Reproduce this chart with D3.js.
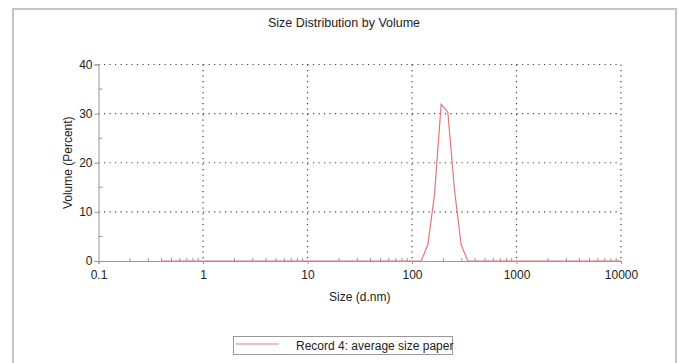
<!DOCTYPE html>
<html>
<head>
<meta charset="utf-8">
<script src="https://cdn.jsdelivr.net/npm/d3@7"></script>
<style>
  body { margin: 0; background: #fff; }
  text { font-family: "Liberation Sans", Arial, sans-serif; fill: #222; }
</style>
</head>
<body>
<div id="chart"></div>
<script>
// Size classes (d.nm) and volume percent for record 4
const sizes = [0.4, 0.4632, 0.5365, 0.6213, 0.7195, 0.8332, 0.9649, 1.117, 1.294, 1.499,
  1.736, 2.01, 2.328, 2.696, 3.122, 3.615, 4.187, 4.849, 5.615, 6.503,
  7.531, 8.721, 10.1, 11.7, 13.54, 15.69, 18.17, 21.04, 24.36, 28.21,
  32.67, 37.84, 43.82, 50.75, 58.77, 68.06, 78.82, 91.28, 105.7, 122.4,
  141.8, 164.2, 190.1, 220.2, 255.0, 295.3, 342.0, 396.1, 458.7, 531.2,
  615.1, 712.4, 825.0, 955.4, 1106, 1281, 1484, 1718, 1990, 2305,
  2669, 3091, 3580, 4145, 4801, 5560, 6439, 7456, 8635, 10000];
const volumes = [0, 0, 0, 0, 0, 0, 0, 0, 0, 0,
  0, 0, 0, 0, 0, 0, 0, 0, 0, 0,
  0, 0, 0, 0, 0, 0, 0, 0, 0, 0,
  0, 0, 0, 0, 0, 0, 0, 0, 0, 0,
  3.3, 13.5, 31.9, 30.3, 14.5, 3.3, 0, 0, 0, 0,
  0, 0, 0, 0, 0, 0, 0, 0, 0, 0,
  0, 0, 0, 0, 0, 0, 0, 0, 0, 0];
const xTicks = [0.1, 1, 10, 100, 1000, 10000];
const yTicks = [0, 10, 20, 30, 40];
const yMinor = [5, 15, 25, 35];
const title = "Size Distribution by Volume";
const seriesName = "Record 4: average size paper";

const width = 681, height = 363;
const margin = { top: 64.5, right: 60, bottom: 102, left: 98.5 };
const lineColor = "#e2787a";

const svg = d3.select("#chart").append("svg")
    .attr("width", width)
    .attr("height", height);

// outer frame
svg.append("rect")
    .attr("x", 13).attr("y", 9)
    .attr("width", 663).attr("height", 370)
    .attr("fill", "none")
    .attr("stroke", "#c4c4c4")
    .attr("stroke-width", 2);

const x = d3.scaleLog()
    .domain([0.1, 10000])
    .range([margin.left, width - margin.right]);
const y = d3.scaleLinear()
    .domain([0, 40])
    .range([height - margin.bottom, margin.top]);

// title
svg.append("text")
    .attr("x", 344).attr("y", 27)
    .attr("text-anchor", "middle")
    .style("font-size", "12.5px")
    .text(title);

// dotted grid
const grid = svg.append("g")
    .attr("stroke", "#444")
    .attr("stroke-width", 1.2)
    .attr("stroke-dasharray", "1.2,4.3");
grid.selectAll("line.h")
    .data(yTicks.filter(d => d > 0))
    .join("line")
    .attr("x1", x(0.1)).attr("x2", x(10000))
    .attr("y1", d => y(d)).attr("y2", d => y(d));
grid.selectAll("line.v")
    .data(xTicks.filter(d => d > 0.1))
    .join("line")
    .attr("x1", d => x(d)).attr("x2", d => x(d))
    .attr("y1", y(40)).attr("y2", y(0));

// axes
const xMinor = [];
for (let e = -1; e < 4; e++) {
    for (let k = 2; k <= 9; k++) xMinor.push(k * Math.pow(10, e));
}

const xAxis = svg.append("g")
    .attr("transform", `translate(0,${y(0)})`)
    .call(d3.axisBottom(x).tickValues(xTicks).tickFormat(d3.format("~g")).tickSize(3).tickPadding(6));
xAxis.selectAll(".tick text").style("font-size", "12px");
xAxis.append("g").selectAll("line")
    .data(xMinor)
    .join("line")
    .attr("x1", d => x(d)).attr("x2", d => x(d))
    .attr("y1", -3).attr("y2", 1)
    .attr("stroke", "#999");

const yAxis = svg.append("g")
    .attr("transform", `translate(${x(0.1)},0)`)
    .call(d3.axisLeft(y).tickValues(yTicks).tickSize(4).tickPadding(2));
yAxis.selectAll(".tick text").style("font-size", "12px");
yAxis.append("g").selectAll("line")
    .data(yMinor)
    .join("line")
    .attr("x1", 0).attr("x2", 4)
    .attr("y1", d => y(d)).attr("y2", d => y(d))
    .attr("stroke", "#999");

svg.selectAll(".domain, .tick line").attr("stroke", "#999");

// axis titles
svg.append("text")
    .attr("x", (x(0.1) + x(10000)) / 2).attr("y", 301)
    .attr("text-anchor", "middle")
    .style("font-size", "12px")
    .text("Size (d.nm)");
svg.append("text")
    .attr("transform", `translate(72,${(y(0) + y(40)) / 2}) rotate(-90)`)
    .attr("text-anchor", "middle")
    .style("font-size", "12px")
    .text("Volume (Percent)");

// distribution line
const line = d3.line()
    .x((d, i) => x(sizes[i]))
    .y(d => y(d));
svg.append("path")
    .datum(volumes)
    .attr("d", line)
    .attr("fill", "none")
    .attr("stroke", lineColor)
    .attr("stroke-width", 1.2);

// legend
const legend = svg.append("g");
legend.append("rect")
    .attr("x", 233.5).attr("y", 336.5)
    .attr("width", 219).attr("height", 18)
    .attr("fill", "#fff")
    .attr("stroke", "#999");
legend.append("line")
    .attr("x1", 236).attr("x2", 279)
    .attr("y1", 344).attr("y2", 344)
    .attr("stroke", lineColor)
    .attr("stroke-width", 1);
legend.append("text")
    .attr("x", 296).attr("y", 350)
    .style("font-size", "12px")
    .text(seriesName);
</script>
</body>
</html>
